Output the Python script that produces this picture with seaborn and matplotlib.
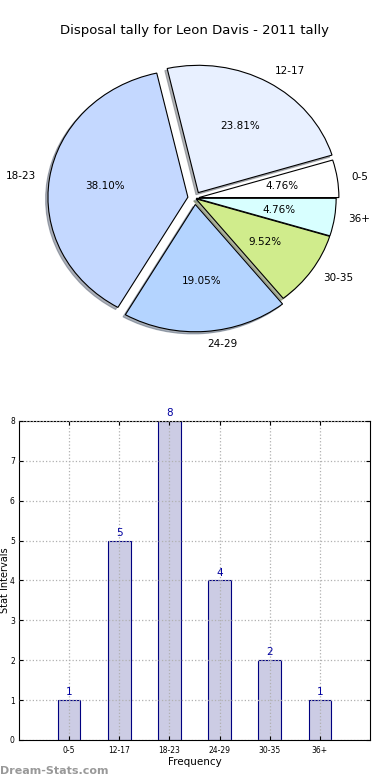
"""
Disposal tally pie + bar chart for Leon Davis, 2011
"""

import seaborn as sns
import matplotlib
matplotlib.use("Agg")
import matplotlib.pyplot as plt

# data
intervals = ['0-5', '12-17', '18-23', '24-29', '30-35', '36+']
counts = [1, 5, 8, 4, 2, 1]
pie_colors = ['#ffffff', '#e8f0ff', '#c4d8ff', '#b4d4ff', '#d0ec8c', '#d8ffff']
explode = [0.03, 0.05, 0.05, 0.05, 0.01, 0.01]


def plot():
    sns.set_style("white")
    plt.rcParams['font.family'] = ['DejaVu Sans']
    for k in ['text.color', 'axes.labelcolor', 'xtick.color', 'ytick.color']:
        plt.rcParams[k] = 'black'

    fig = plt.figure(figsize=(3.9, 7.8), dpi=100)

    # pie on top
    ax1 = fig.add_axes([0.051, 0.542, 0.897, 0.408])
    ax1.pie(counts, labels=intervals, colors=pie_colors, explode=explode,
            autopct='%1.2f%%', startangle=0,
            shadow={'ox': -0.012, 'oy': -0.012, 'shade': 0.55},
            wedgeprops={'edgecolor': 'black', 'linewidth': 0.8},
            textprops={'fontsize': 7.5})
    ax1.set_aspect('auto')
    ax1.set_xlim(-1.25, 1.25)
    ax1.set_ylim(-1.25, 1.25)
    fig.text(0.5, 0.961, 'Disposal tally for Leon Davis - 2011 tally',
             ha='center', va='center', fontsize=9.5)

    # bar chart below
    ax2 = fig.add_axes([0.0487, 0.0513, 0.9, 0.409])
    sns.barplot(x=intervals, y=counts, ax=ax2, color='#ccccE4', saturation=1,
                edgecolor='#000080', linewidth=0.8, width=0.45, zorder=2)
    ax2.bar_label(ax2.containers[0], color='#0000a0', fontsize=7.5, padding=2)
    ax2.set_xlim(-1, 6)
    ax2.set_ylim(0, 8)
    ax2.grid(True, linestyle=':', color='#b0b0b0', linewidth=0.9, zorder=0)
    ax2.set_axisbelow(False)
    for s in ax2.spines.values():
        s.set_color('black')
        s.set_linewidth(0.8)
    ax2.tick_params(axis='both', labelsize=5.5, direction='in', length=3,
                    left=True, right=True, top=True, bottom=True, pad=4)
    ax2.tick_params(axis='y', pad=3)
    ax2.set_xlabel('Frequency', fontsize=7.5, labelpad=2)
    ax2.set_ylabel('Stat Intervals', fontsize=7)
    ax2.yaxis.set_label_coords(-0.026, 0.5)

    fig.text(0.0, 0.0115, 'Dream-Stats.com', color='#999999', fontsize=8,
             fontweight='bold', ha='left', va='center')

    plt.savefig('out.png', dpi=100)


if __name__ == "__main__":
    plot()
